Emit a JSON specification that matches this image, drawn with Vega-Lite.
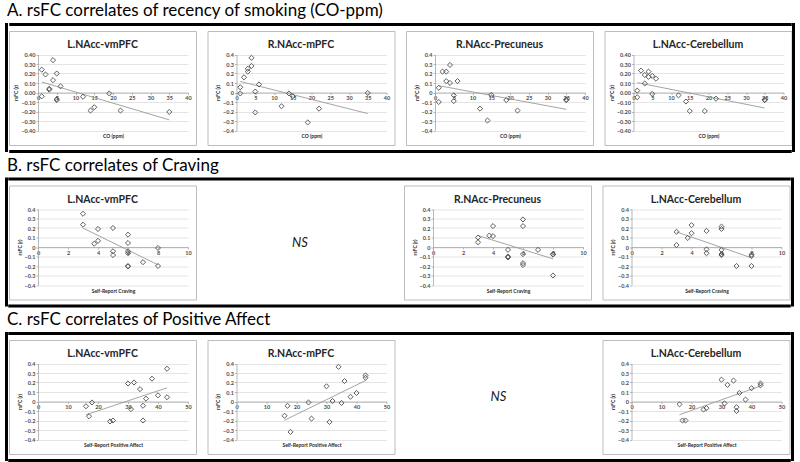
{
"$schema": "https://vega.github.io/schema/vega-lite/v6.json",
"padding": {"left": 5, "top": 2, "right": 0, "bottom": 0},
"background": "white",
"spacing": 3.5,
"config": {
  "font": "Lato",
  "view": {"stroke": "#bdbdbd", "strokeWidth": 1},
  "title": {"font": "Lato", "fontSize": 10.5, "fontWeight": "bold", "color": "#262626", "offset": -19.5, "anchor": "middle", "frame": "group", "dx": 0},
  "axis": {"labelFont": "Lato", "labelFontSize": 5.5, "labelFontWeight": "bold", "labelColor": "#4d4d4d", "titleFont": "Lato", "titleFontSize": 5, "titleFontWeight": "bold", "titleColor": "#262626", "domainColor": "#a6a6a6", "domainWidth": 0.8, "tickColor": "#a6a6a6", "tickWidth": 0.8, "tickSize": 2, "gridColor": "#d9d9d9", "gridWidth": 0.7, "labelPadding": 1, "titlePadding": 2},
  "axisX": {"grid": false, "labelFlush": false, "titleBaseline": "middle"},
  "axisY": {"grid": true}
},
"datasets": {
  "A1": [{"x":1,"y":0.24},{"x":1,"y":-0.04},{"x":2,"y":0.19},{"x":3,"y":0.04},{"x":3,"y":0.03},{"x":4,"y":0.34},{"x":4,"y":0.13},{"x":5,"y":0.2},{"x":5,"y":-0.08},{"x":5,"y":-0.07},{"x":6,"y":0.065},{"x":12,"y":-0.045},{"x":14,"y":-0.19},{"x":15,"y":-0.155},{"x":19,"y":-0.01},{"x":22,"y":-0.19},{"x":35,"y":-0.205}],
  "A2": [{"x":1,"y":0.055},{"x":1,"y":-0.01},{"x":2,"y":0.16},{"x":3,"y":0.25},{"x":3,"y":0.22},{"x":4,"y":0.28},{"x":4,"y":0.365},{"x":5,"y":0.01},{"x":5,"y":-0.21},{"x":6,"y":0.085},{"x":12,"y":-0.145},{"x":14,"y":-0.01},{"x":15,"y":-0.04},{"x":19,"y":-0.315},{"x":22,"y":-0.17},{"x":35,"y":-0.005}],
  "A3": [{"x":1,"y":0.05},{"x":1,"y":-0.1},{"x":2,"y":0.22},{"x":3,"y":0.22},{"x":3,"y":0.12},{"x":4,"y":0.29},{"x":4,"y":0.1},{"x":5,"y":-0.03},{"x":5,"y":-0.09},{"x":6,"y":0.12},{"x":12,"y":-0.17},{"x":14,"y":-0.295},{"x":15,"y":-0.025},{"x":19,"y":-0.08},{"x":22,"y":-0.19},{"x":35,"y":-0.075},{"x":35,"y":-0.08}],
  "A4": [{"x":1,"y":0.02},{"x":1,"y":-0.05},{"x":2,"y":0.23},{"x":3,"y":0.185},{"x":3,"y":0.095},{"x":4,"y":0.22},{"x":4,"y":0.165},{"x":5,"y":0.175},{"x":5,"y":-0.015},{"x":6,"y":0.145},{"x":12,"y":-0.03},{"x":14,"y":-0.095},{"x":15,"y":-0.195},{"x":19,"y":-0.195},{"x":22,"y":-0.065},{"x":35,"y":-0.075},{"x":35,"y":-0.08}],
  "B1": [{"x":3,"y":0.35},{"x":3,"y":0.235},{"x":3.75,"y":0.035},{"x":4,"y":0.19},{"x":4,"y":0.065},{"x":5,"y":0.2},{"x":5,"y":-0.045},{"x":5,"y":-0.085},{"x":6,"y":0.13},{"x":6,"y":0.042},{"x":6,"y":-0.045},{"x":6,"y":-0.065},{"x":6,"y":-0.2},{"x":6,"y":-0.205},{"x":7,"y":-0.16},{"x":8,"y":-0.01},{"x":8,"y":-0.2}],
  "B3": [{"x":3,"y":0.1},{"x":3,"y":0.05},{"x":3.75,"y":0.12},{"x":4,"y":0.22},{"x":4,"y":0.115},{"x":5,"y":-0.03},{"x":5,"y":-0.1},{"x":5,"y":-0.11},{"x":6,"y":0.29},{"x":6,"y":0.22},{"x":6,"y":-0.075},{"x":6,"y":-0.17},{"x":6,"y":-0.19},{"x":7,"y":-0.03},{"x":8,"y":-0.075},{"x":8,"y":-0.08},{"x":8,"y":-0.3}],
  "B4": [{"x":3,"y":0.16},{"x":3,"y":0.02},{"x":3.75,"y":0.095},{"x":4,"y":0.23},{"x":4,"y":0.145},{"x":5,"y":0.17},{"x":5,"y":-0.025},{"x":5,"y":-0.065},{"x":6,"y":0.215},{"x":6,"y":0.19},{"x":6,"y":-0.03},{"x":6,"y":-0.075},{"x":6,"y":-0.085},{"x":7,"y":-0.2},{"x":8,"y":-0.08},{"x":8,"y":-0.095},{"x":8,"y":-0.2}],
  "C1": [{"x":16,"y":-0.05},{"x":17,"y":-0.155},{"x":18,"y":-0.01},{"x":24,"y":-0.21},{"x":25,"y":-0.2},{"x":30,"y":0.19},{"x":31,"y":-0.08},{"x":32,"y":0.2},{"x":34,"y":0.13},{"x":35,"y":-0.045},{"x":35,"y":-0.2},{"x":36,"y":0.03},{"x":38,"y":0.24},{"x":40,"y":0.065},{"x":43,"y":0.345},{"x":43,"y":0.045}],
  "C2": [{"x":16,"y":-0.15},{"x":17,"y":-0.045},{"x":18,"y":-0.32},{"x":24,"y":-0.01},{"x":25,"y":-0.18},{"x":30,"y":0.16},{"x":31,"y":-0.215},{"x":32,"y":0.005},{"x":34,"y":0.365},{"x":35,"y":-0.015},{"x":36,"y":0.215},{"x":38,"y":0.05},{"x":40,"y":0.09},{"x":43,"y":0.275},{"x":43,"y":0.25}],
  "C4": [{"x":16,"y":-0.03},{"x":17,"y":-0.2},{"x":18,"y":-0.2},{"x":24,"y":-0.085},{"x":25,"y":-0.07},{"x":30,"y":0.23},{"x":31,"y":-0.02},{"x":32,"y":0.175},{"x":34,"y":0.22},{"x":35,"y":-0.06},{"x":35,"y":-0.1},{"x":36,"y":0.09},{"x":38,"y":0.02},{"x":40,"y":0.14},{"x":43,"y":0.19},{"x":43,"y":0.17}]
},
"vconcat": [
 {
  "title": {"text": "A. rsFC correlates of recency of smoking (CO-ppm)", "anchor": "start", "frame": "bounds", "fontSize": 17, "fontWeight": "normal", "offset": 3, "dx": 2, "color": "#000000"},
  "spacing": 0,
  "hconcat": [
   {"width": 3, "height": 129, "data": {"values": []}, "mark": "point", "view": {"fill": "black", "stroke": null}},
   {"spacing": 4, "center": true, "vconcat": [
     {"width": 782.5, "height": 3, "data": {"values": []}, "mark": "point", "view": {"fill": "black", "stroke": null}},
     {"spacing": 9.5, "hconcat": [
       {"width": 187, "height": 114, "title": {"text": "L.NAcc-vmPFC"}, "data": {"name": "A1"},
        "encoding": {
          "x": {"field": "x", "type": "quantitative", "scale": {"domain": [0, 40], "range": [29, 179], "nice": false, "zero": false}, "axis": {"title": "CO (ppm)", "values": [0, 5, 10, 15, 20, 25, 30, 35, 40], "offset": -52.5, "titleY": 43}},
          "y": {"field": "y", "type": "quantitative", "scale": {"domain": [-0.4, 0.4], "range": [99.5, 23.5], "nice": false, "zero": false}, "axis": {"title": "rsFC (r)", "values": [-0.4, -0.3, -0.2, -0.1, 0, 0.1, 0.2, 0.3, 0.4], "offset": -29, "format": ".2f"}}
        },
        "layer": [
          {"transform": [{"regression": "y", "on": "x"}], "mark": {"type": "line", "stroke": "#9a9a9a", "strokeWidth": 0.9}},
          {"mark": {"type": "point", "shape": "diamond", "filled": false, "stroke": "#4d4d4d", "strokeWidth": 0.9, "size": 26, "opacity": 1}},
          {"data": {"values": [{"label": "R² = 0.48"}]}, "mark": {"type": "text", "align": "right", "baseline": "middle", "dy": 7.5, "fontSize": 5, "fontWeight": "bold", "color": "#404040"}, "encoding": {"x": {"datum": 40, "type": "quantitative"}, "y": {"datum": -0.4, "type": "quantitative"}, "text": {"field": "label"}}}
        ]},
       {"width": 187, "height": 114, "title": {"text": "R.NAcc-mPFC"}, "data": {"name": "A2"},
        "encoding": {
          "x": {"field": "x", "type": "quantitative", "scale": {"domain": [0, 40], "range": [29, 179], "nice": false, "zero": false}, "axis": {"title": "CO (ppm)", "values": [0, 5, 10, 15, 20, 25, 30, 35, 40], "offset": -52.5, "titleY": 43}},
          "y": {"field": "y", "type": "quantitative", "scale": {"domain": [-0.4, 0.4], "range": [99.5, 23.5], "nice": false, "zero": false}, "axis": {"title": "rsFC (r)", "values": [-0.4, -0.3, -0.2, -0.1, 0, 0.1, 0.2, 0.3, 0.4], "offset": -29, "labelExpr": "datum.value == 0 ? '0' : format(datum.value, '.1f')"}}
        },
        "layer": [
          {"transform": [{"regression": "y", "on": "x"}], "mark": {"type": "line", "stroke": "#9a9a9a", "strokeWidth": 0.9}},
          {"mark": {"type": "point", "shape": "diamond", "filled": false, "stroke": "#4d4d4d", "strokeWidth": 0.9, "size": 26, "opacity": 1}},
          {"data": {"values": [{"label": "R² = 0.25"}]}, "mark": {"type": "text", "align": "right", "baseline": "middle", "dy": 7.5, "fontSize": 5, "fontWeight": "bold", "color": "#404040"}, "encoding": {"x": {"datum": 40, "type": "quantitative"}, "y": {"datum": -0.4, "type": "quantitative"}, "text": {"field": "label"}}}
        ]},
       {"width": 187, "height": 114, "title": {"text": "R.NAcc-Precuneus"}, "data": {"name": "A3"},
        "encoding": {
          "x": {"field": "x", "type": "quantitative", "scale": {"domain": [0, 40], "range": [29, 179], "nice": false, "zero": false}, "axis": {"title": "CO (ppm)", "values": [0, 5, 10, 15, 20, 25, 30, 35, 40], "offset": -52.5, "titleY": 43}},
          "y": {"field": "y", "type": "quantitative", "scale": {"domain": [-0.4, 0.4], "range": [99.5, 23.5], "nice": false, "zero": false}, "axis": {"title": "rsFC (r)", "values": [-0.4, -0.3, -0.2, -0.1, 0, 0.1, 0.2, 0.3, 0.4], "offset": -29, "labelExpr": "datum.value == 0 ? '0' : format(datum.value, '.1f')"}}
        },
        "layer": [
          {"transform": [{"regression": "y", "on": "x"}], "mark": {"type": "line", "stroke": "#9a9a9a", "strokeWidth": 0.9}},
          {"mark": {"type": "point", "shape": "diamond", "filled": false, "stroke": "#4d4d4d", "strokeWidth": 0.9, "size": 26, "opacity": 1}},
          {"data": {"values": [{"label": "R² = 0.27"}]}, "mark": {"type": "text", "align": "right", "baseline": "middle", "dy": 7.5, "fontSize": 5, "fontWeight": "bold", "color": "#404040"}, "encoding": {"x": {"datum": 40, "type": "quantitative"}, "y": {"datum": -0.4, "type": "quantitative"}, "text": {"field": "label"}}}
        ]},
       {"width": 187, "height": 114, "title": {"text": "L.NAcc-Cerebellum"}, "data": {"name": "A4"},
        "encoding": {
          "x": {"field": "x", "type": "quantitative", "scale": {"domain": [0, 40], "range": [29, 179], "nice": false, "zero": false}, "axis": {"title": "CO (ppm)", "values": [0, 5, 10, 15, 20, 25, 30, 35, 40], "offset": -52.5, "titleY": 43}},
          "y": {"field": "y", "type": "quantitative", "scale": {"domain": [-0.4, 0.4], "range": [99.5, 23.5], "nice": false, "zero": false}, "axis": {"title": "rsFC (r)", "values": [-0.4, -0.3, -0.2, -0.1, 0, 0.1, 0.2, 0.3, 0.4], "offset": -29, "format": ".2f"}}
        },
        "layer": [
          {"transform": [{"regression": "y", "on": "x"}], "mark": {"type": "line", "stroke": "#9a9a9a", "strokeWidth": 0.9}},
          {"mark": {"type": "point", "shape": "diamond", "filled": false, "stroke": "#4d4d4d", "strokeWidth": 0.9, "size": 26, "opacity": 1}},
          {"data": {"values": [{"label": "R² = 0.40"}]}, "mark": {"type": "text", "align": "right", "baseline": "middle", "dy": 7.5, "fontSize": 5, "fontWeight": "bold", "color": "#404040"}, "encoding": {"x": {"datum": 40, "type": "quantitative"}, "y": {"datum": -0.4, "type": "quantitative"}, "text": {"field": "label"}}}
        ]}
     ]},
     {"width": 782.5, "height": 3, "data": {"values": []}, "mark": "point", "view": {"fill": "black", "stroke": null}}
   ]},
   {"width": 3, "height": 129, "data": {"values": []}, "mark": "point", "view": {"fill": "black", "stroke": null}}
  ]
 },
 {
  "title": {"text": "B. rsFC correlates of Craving", "anchor": "start", "frame": "bounds", "fontSize": 17, "fontWeight": "normal", "offset": 3, "dx": 2, "color": "#000000"},
  "spacing": 0,
  "hconcat": [
   {"width": 3, "height": 129, "data": {"values": []}, "mark": "point", "view": {"fill": "black", "stroke": null}},
   {"spacing": 4, "center": true, "vconcat": [
     {"width": 782.5, "height": 3, "data": {"values": []}, "mark": "point", "view": {"fill": "black", "stroke": null}},
     {"spacing": 9.5, "hconcat": [
       {"width": 187, "height": 114, "title": {"text": "L.NAcc-vmPFC"}, "data": {"name": "B1"},
        "encoding": {
          "x": {"field": "x", "type": "quantitative", "scale": {"domain": [0, 10], "range": [29, 179], "nice": false, "zero": false}, "axis": {"title": "Self-Report Craving", "values": [0, 2, 4, 6, 8, 10], "offset": -52.5, "titleY": 43}},
          "y": {"field": "y", "type": "quantitative", "scale": {"domain": [-0.4, 0.4], "range": [99.5, 23.5], "nice": false, "zero": false}, "axis": {"title": "rsFC (r)", "values": [-0.4, -0.3, -0.2, -0.1, 0, 0.1, 0.2, 0.3, 0.4], "offset": -29, "labelExpr": "datum.value == 0 ? '0' : format(datum.value, '.1f')"}}
        },
        "layer": [
          {"transform": [{"regression": "y", "on": "x"}], "mark": {"type": "line", "stroke": "#9a9a9a", "strokeWidth": 0.9}},
          {"mark": {"type": "point", "shape": "diamond", "filled": false, "stroke": "#4d4d4d", "strokeWidth": 0.9, "size": 26, "opacity": 1}},
          {"data": {"values": [{"label": "R² = 0.50"}]}, "mark": {"type": "text", "align": "right", "baseline": "middle", "dy": 7.5, "fontSize": 5, "fontWeight": "bold", "color": "#404040"}, "encoding": {"x": {"datum": 10, "type": "quantitative"}, "y": {"datum": -0.4, "type": "quantitative"}, "text": {"field": "label"}}}
        ]},
       {"width": 187, "height": 114, "view": {"stroke": null}, "data": {"values": [{"label": "NS"}]}, "mark": {"type": "text", "fontSize": 13, "fontStyle": "italic", "font": "Lato", "color": "#1a1a1a"}, "encoding": {"text": {"field": "label"}}},
       {"width": 187, "height": 114, "title": {"text": "R.NAcc-Precuneus"}, "data": {"name": "B3"},
        "encoding": {
          "x": {"field": "x", "type": "quantitative", "scale": {"domain": [0, 10], "range": [29, 179], "nice": false, "zero": false}, "axis": {"title": "Self-Report Craving", "values": [0, 2, 4, 6, 8, 10], "offset": -52.5, "titleY": 43}},
          "y": {"field": "y", "type": "quantitative", "scale": {"domain": [-0.4, 0.4], "range": [99.5, 23.5], "nice": false, "zero": false}, "axis": {"title": "rsFC (r)", "values": [-0.4, -0.3, -0.2, -0.1, 0, 0.1, 0.2, 0.3, 0.4], "offset": -29, "labelExpr": "datum.value == 0 ? '0' : format(datum.value, '.1f')"}}
        },
        "layer": [
          {"transform": [{"regression": "y", "on": "x"}], "mark": {"type": "line", "stroke": "#9a9a9a", "strokeWidth": 0.9}},
          {"mark": {"type": "point", "shape": "diamond", "filled": false, "stroke": "#4d4d4d", "strokeWidth": 0.9, "size": 26, "opacity": 1}},
          {"data": {"values": [{"label": "R² = 0.25"}]}, "mark": {"type": "text", "align": "right", "baseline": "middle", "dy": 7.5, "fontSize": 5, "fontWeight": "bold", "color": "#404040"}, "encoding": {"x": {"datum": 10, "type": "quantitative"}, "y": {"datum": -0.4, "type": "quantitative"}, "text": {"field": "label"}}}
        ]},
       {"width": 187, "height": 114, "title": {"text": "L.NAcc-Cerebellum"}, "data": {"name": "B4"},
        "encoding": {
          "x": {"field": "x", "type": "quantitative", "scale": {"domain": [0, 10], "range": [29, 179], "nice": false, "zero": false}, "axis": {"title": "Self-Report Craving", "values": [0, 2, 4, 6, 8, 10], "offset": -52.5, "titleY": 43}},
          "y": {"field": "y", "type": "quantitative", "scale": {"domain": [-0.4, 0.4], "range": [99.5, 23.5], "nice": false, "zero": false}, "axis": {"title": "rsFC (r)", "values": [-0.4, -0.3, -0.2, -0.1, 0, 0.1, 0.2, 0.3, 0.4], "offset": -29, "labelExpr": "datum.value == 0 ? '0' : format(datum.value, '.1f')"}}
        },
        "layer": [
          {"transform": [{"regression": "y", "on": "x"}], "mark": {"type": "line", "stroke": "#9a9a9a", "strokeWidth": 0.9}},
          {"mark": {"type": "point", "shape": "diamond", "filled": false, "stroke": "#4d4d4d", "strokeWidth": 0.9, "size": 26, "opacity": 1}},
          {"data": {"values": [{"label": "R² = 0.38"}]}, "mark": {"type": "text", "align": "right", "baseline": "middle", "dy": 7.5, "fontSize": 5, "fontWeight": "bold", "color": "#404040"}, "encoding": {"x": {"datum": 10, "type": "quantitative"}, "y": {"datum": -0.4, "type": "quantitative"}, "text": {"field": "label"}}}
        ]}
     ]},
     {"width": 782.5, "height": 3, "data": {"values": []}, "mark": "point", "view": {"fill": "black", "stroke": null}}
   ]},
   {"width": 3, "height": 129, "data": {"values": []}, "mark": "point", "view": {"fill": "black", "stroke": null}}
  ]
 },
 {
  "title": {"text": "C. rsFC correlates of Positive Affect", "anchor": "start", "frame": "bounds", "fontSize": 17, "fontWeight": "normal", "offset": 3, "dx": 2, "color": "#000000"},
  "spacing": 0,
  "hconcat": [
   {"width": 3, "height": 129, "data": {"values": []}, "mark": "point", "view": {"fill": "black", "stroke": null}},
   {"spacing": 4, "center": true, "vconcat": [
     {"width": 782.5, "height": 3, "data": {"values": []}, "mark": "point", "view": {"fill": "black", "stroke": null}},
     {"spacing": 9.5, "hconcat": [
       {"width": 187, "height": 114, "title": {"text": "L.NAcc-vmPFC"}, "data": {"name": "C1"},
        "encoding": {
          "x": {"field": "x", "type": "quantitative", "scale": {"domain": [0, 50], "range": [29, 179], "nice": false, "zero": false}, "axis": {"title": "Self-Report Positive Affect", "values": [0, 10, 20, 30, 40, 50], "offset": -52.5, "titleY": 43}},
          "y": {"field": "y", "type": "quantitative", "scale": {"domain": [-0.4, 0.4], "range": [99.5, 23.5], "nice": false, "zero": false}, "axis": {"title": "rsFC (r)", "values": [-0.4, -0.3, -0.2, -0.1, 0, 0.1, 0.2, 0.3, 0.4], "offset": -29, "labelExpr": "datum.value == 0 ? '0' : format(datum.value, '.1f')"}}
        },
        "layer": [
          {"transform": [{"regression": "y", "on": "x"}], "mark": {"type": "line", "stroke": "#9a9a9a", "strokeWidth": 0.9}},
          {"mark": {"type": "point", "shape": "diamond", "filled": false, "stroke": "#4d4d4d", "strokeWidth": 0.9, "size": 26, "opacity": 1}},
          {"data": {"values": [{"label": "R² = 0.30"}]}, "mark": {"type": "text", "align": "right", "baseline": "middle", "dy": 7.5, "fontSize": 5, "fontWeight": "bold", "color": "#404040"}, "encoding": {"x": {"datum": 50, "type": "quantitative"}, "y": {"datum": -0.4, "type": "quantitative"}, "text": {"field": "label"}}}
        ]},
       {"width": 187, "height": 114, "title": {"text": "R.NAcc-mPFC"}, "data": {"name": "C2"},
        "encoding": {
          "x": {"field": "x", "type": "quantitative", "scale": {"domain": [0, 50], "range": [29, 179], "nice": false, "zero": false}, "axis": {"title": "Self-Report Positive Affect", "values": [0, 10, 20, 30, 40, 50], "offset": -52.5, "titleY": 43}},
          "y": {"field": "y", "type": "quantitative", "scale": {"domain": [-0.4, 0.4], "range": [99.5, 23.5], "nice": false, "zero": false}, "axis": {"title": "rsFC (r)", "values": [-0.4, -0.3, -0.2, -0.1, 0, 0.1, 0.2, 0.3, 0.4], "offset": -29, "labelExpr": "datum.value == 0 ? '0' : format(datum.value, '.1f')"}}
        },
        "layer": [
          {"transform": [{"regression": "y", "on": "x"}], "mark": {"type": "line", "stroke": "#9a9a9a", "strokeWidth": 0.9}},
          {"mark": {"type": "point", "shape": "diamond", "filled": false, "stroke": "#4d4d4d", "strokeWidth": 0.9, "size": 26, "opacity": 1}},
          {"data": {"values": [{"label": "R² = 0.48"}]}, "mark": {"type": "text", "align": "right", "baseline": "middle", "dy": 7.5, "fontSize": 5, "fontWeight": "bold", "color": "#404040"}, "encoding": {"x": {"datum": 50, "type": "quantitative"}, "y": {"datum": -0.4, "type": "quantitative"}, "text": {"field": "label"}}}
        ]},
       {"width": 187, "height": 114, "view": {"stroke": null}, "data": {"values": [{"label": "NS"}]}, "mark": {"type": "text", "fontSize": 13, "fontStyle": "italic", "font": "Lato", "color": "#1a1a1a"}, "encoding": {"text": {"field": "label"}}},
       {"width": 187, "height": 114, "title": {"text": "L.NAcc-Cerebellum"}, "data": {"name": "C4"},
        "encoding": {
          "x": {"field": "x", "type": "quantitative", "scale": {"domain": [0, 50], "range": [29, 179], "nice": false, "zero": false}, "axis": {"title": "Self-Report Positive Affect", "values": [0, 10, 20, 30, 40, 50], "offset": -52.5, "titleY": 43}},
          "y": {"field": "y", "type": "quantitative", "scale": {"domain": [-0.4, 0.4], "range": [99.5, 23.5], "nice": false, "zero": false}, "axis": {"title": "rsFC (r)", "values": [-0.4, -0.3, -0.2, -0.1, 0, 0.1, 0.2, 0.3, 0.4], "offset": -29, "labelExpr": "datum.value == 0 ? '0' : format(datum.value, '.1f')"}}
        },
        "layer": [
          {"transform": [{"regression": "y", "on": "x"}], "mark": {"type": "line", "stroke": "#9a9a9a", "strokeWidth": 0.9}},
          {"mark": {"type": "point", "shape": "diamond", "filled": false, "stroke": "#4d4d4d", "strokeWidth": 0.9, "size": 26, "opacity": 1}},
          {"data": {"values": [{"label": "R² = 0.46"}]}, "mark": {"type": "text", "align": "right", "baseline": "middle", "dy": 7.5, "fontSize": 5, "fontWeight": "bold", "color": "#404040"}, "encoding": {"x": {"datum": 50, "type": "quantitative"}, "y": {"datum": -0.4, "type": "quantitative"}, "text": {"field": "label"}}}
        ]}
     ]},
     {"width": 782.5, "height": 3, "data": {"values": []}, "mark": "point", "view": {"fill": "black", "stroke": null}}
   ]},
   {"width": 3, "height": 129, "data": {"values": []}, "mark": "point", "view": {"fill": "black", "stroke": null}}
  ]
 }
]
}
